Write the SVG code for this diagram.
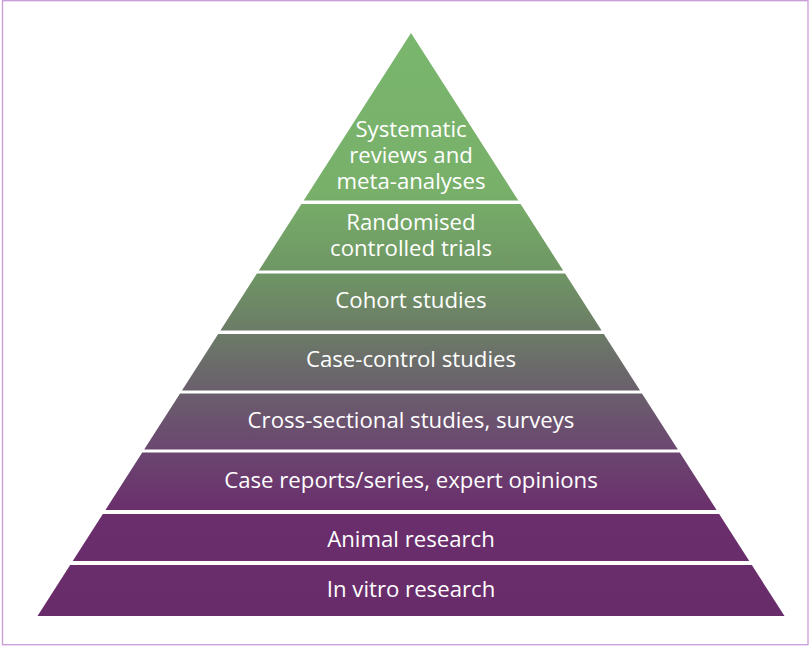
<svg xmlns="http://www.w3.org/2000/svg" width="810" height="648" viewBox="0 0 810 648">
<defs>
<linearGradient id="g" gradientUnits="userSpaceOnUse" x1="0" y1="33" x2="0" y2="616">
<stop offset="0" stop-color="#7ab66d"/>
<stop offset="0.27" stop-color="#78b06a"/>
<stop offset="0.41" stop-color="#6f9664"/>
<stop offset="0.51" stop-color="#6c7c67"/>
<stop offset="0.61" stop-color="#6a606c"/>
<stop offset="0.71" stop-color="#6b4870"/>
<stop offset="0.82" stop-color="#6a2e6c"/>
<stop offset="1" stop-color="#692c6b"/>
</linearGradient>
<style>
.band{fill:url(#g);}
.t{font-family:"Open Sans","Noto Sans","DejaVu Sans",sans-serif;font-size:22.2px;fill:#ffffff;text-anchor:middle;}
</style>
</defs>
<rect x="0" y="0" width="810" height="648" fill="#ffffff"/>
<rect x="2.5" y="0.7" width="805.5" height="644" fill="none" stroke="#c99bd6" stroke-width="1.3"/>
<g id="level1">
<polygon class="band" points="411,33 518.3,200.5 303.7,200.5"/>
<text class="t" x="411" y="137">Systematic</text>
<text class="t" x="411" y="163">reviews and</text>
<text class="t" x="411" y="189">meta-analyses</text>
</g>
<g id="level2">
<polygon class="band" points="301.45,204 520.55,204 563.15,270.5 258.85,270.5"/>
<text class="t" x="411" y="230">Randomised</text>
<text class="t" x="411" y="256">controlled trials</text>
</g>
<g id="level3">
<polygon class="band" points="256.92,273.5 565.08,273.5 601.59,330.5 220.41,330.5"/>
<text class="t" x="411" y="308">Cohort studies</text>
</g>
<g id="level4">
<polygon class="band" points="218.16,334 603.84,334 640.03,390.5 181.97,390.5"/>
<text class="t" x="411" y="367">Case-control studies</text>
</g>
<g id="level5">
<polygon class="band" points="180.05,393.5 641.95,393.5 677.83,449.5 144.17,449.5"/>
<text class="t" x="411" y="428">Cross-sectional studies, surveys</text>
</g>
<g id="level6">
<polygon class="band" points="142.25,452.5 679.75,452.5 716.59,510 105.41,510"/>
<text class="t" x="411" y="488">Case reports/series, expert opinions</text>
</g>
<g id="level7">
<polygon class="band" points="102.85,514 719.15,514 749.26,561 72.74,561"/>
<text class="t" x="411" y="547">Animal research</text>
</g>
<g id="level8">
<polygon class="band" points="70.17,565 751.83,565 784.5,616 37.5,616"/>
<text class="t" x="411" y="597">In vitro research</text>
</g>
<g id="connectors"></g>
</svg>
